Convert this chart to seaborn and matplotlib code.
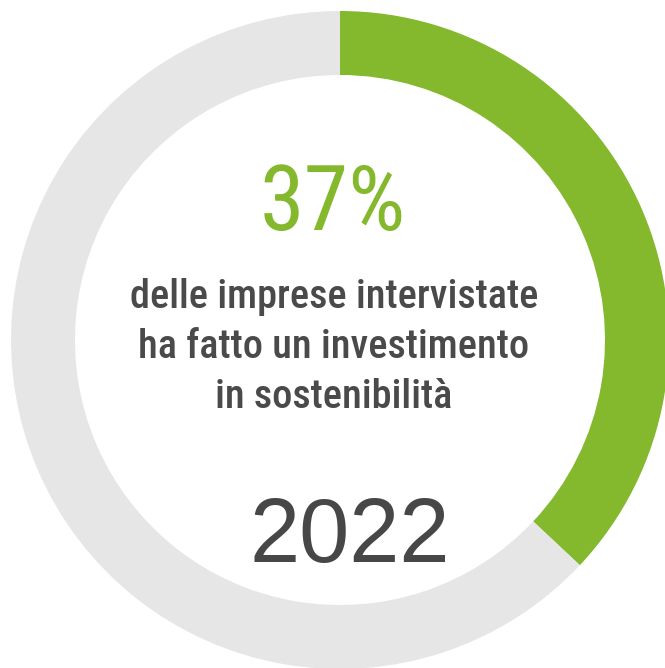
import matplotlib
matplotlib.use("Agg")
import seaborn as sns
from matplotlib import pyplot as plt

sns.set_theme(style="white")

# data
shares = [37, 63]
share_names = ["investimento", "altro"]
share_colors = ["#84b82d", "#e6e6e6"]
headline = "37%"
caption = ["delle imprese intervistate", "ha fatto un investimento", "in sostenibilità"]
year = "2022"

narrow = ["Roboto Condensed", "DejaVu Sans"]

W, H = 665, 668
f = plt.figure(figsize=(W / 100, H / 100), dpi=100)
ax = f.add_axes([0, 0, 1, 1])

cx, cy = 340, H - 340
ax.pie(
    shares,
    colors=share_colors,
    labels=None,
    startangle=90,
    counterclock=False,
    center=(cx, cy),
    radius=329,
    wedgeprops=dict(width=64, edgecolor="none", linewidth=0),
    frame=True,
)
ax.set_xlim(0, W)
ax.set_ylim(0, H)
ax.set_aspect("equal")
ax.axis("off")

ax.text(333, H - 230, headline, ha="center", va="baseline",
        fontsize=65, color=share_colors[0], family=narrow)

for i, line in enumerate(caption):
    ax.text(334, H - (308 + 50 * i), line, ha="center", va="baseline",
            fontsize=29, fontweight=500, color="#4a4a4a", family=narrow)

ax.text(350, H - 562, year, ha="center", va="baseline",
        fontsize=65, color="#474747", family=["Liberation Sans", "DejaVu Sans"])

plt.savefig("out.png", dpi=100)
plt.close(f)
